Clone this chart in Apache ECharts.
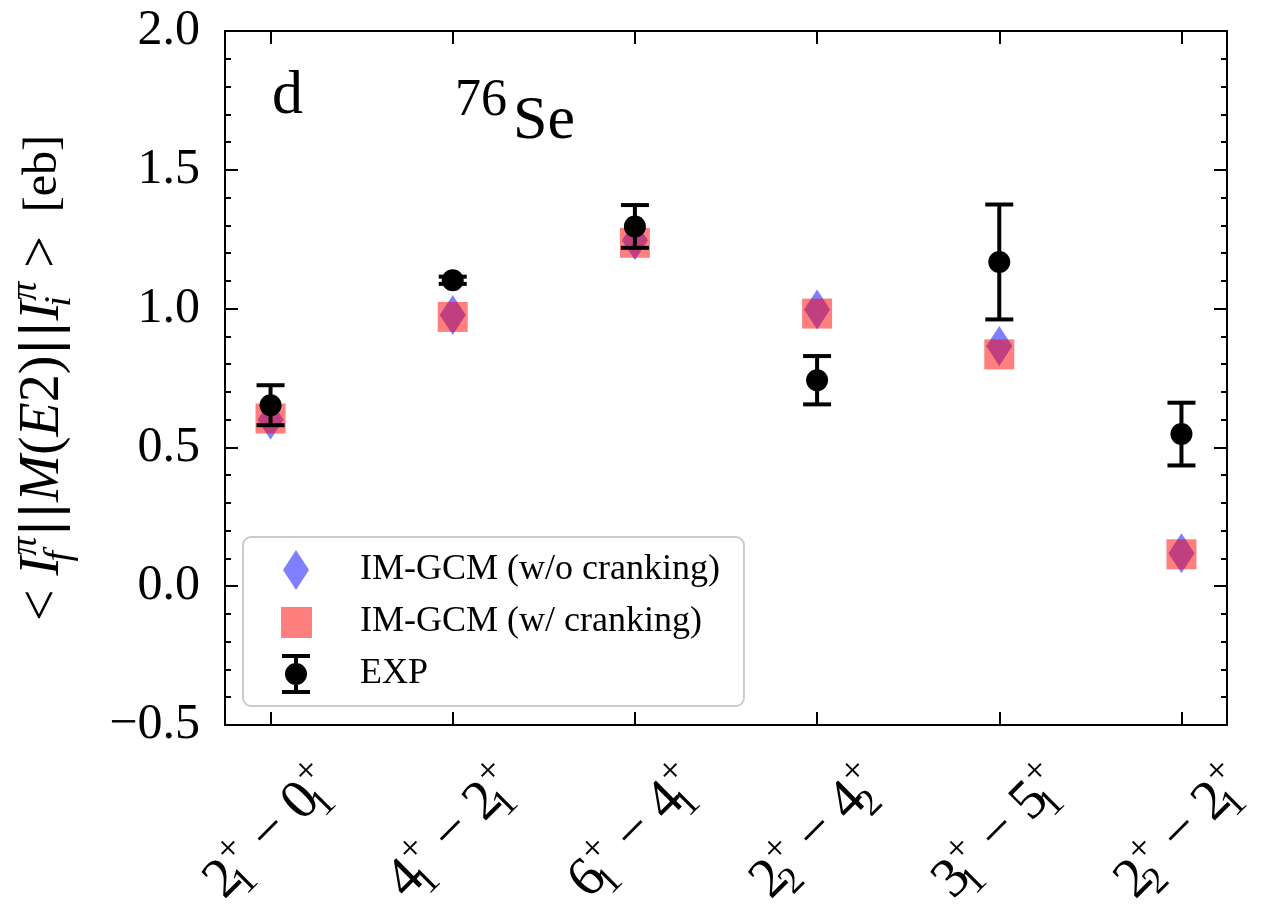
<!DOCTYPE html>
<html>
<head>
<meta charset="utf-8">
<script src="https://cdn.jsdelivr.net/npm/echarts@6/dist/echarts.min.js"></script>
<style>
html,body{margin:0;padding:0;background:#fff;}
#chart{width:1271px;height:914px;}
</style>
</head>
<body>
<div id="chart"></div>
<script>
// ---- data ----
const categories = ['2_1^+ - 0_1^+', '4_1^+ - 2_1^+', '6_1^+ - 4_1^+', '2_2^+ - 4_2^+', '3_1^+ - 5_1^+', '2_2^+ - 2_1^+'];
const woCranking = [0.600, 0.977, 1.246, 0.997, 0.865, 0.119];
const wCranking  = [0.604, 0.970, 1.237, 0.982, 0.835, 0.115];
const expValues  = [0.652, 1.102, 1.296, 0.742, 1.168, 0.548];
const expErrors  = [0.072, 0.013, 0.077, 0.087, 0.207, 0.113];
const yTicks = [-0.5, 0.0, 0.5, 1.0, 1.5, 2.0];
const seriesNames = ['IM-GCM (w/o cranking)', 'IM-GCM (w/ cranking)', 'EXP'];

const SERIF = '"Liberation Serif", "Times New Roman", serif';

function toRich(s) {
  return s.replace(/(\d)_(\d)\^\+/g, '{d|$1}{sb|$2}{sp|+}').replace(' - ', '{m| − }');
}
const xTickValues = categories.map((c, i) => i);

const chart = echarts.init(document.getElementById('chart'), null, {renderer: 'canvas'});

const axisLineStyle = {color: '#000', width: 2};
const tickStyle = {color: '#000', width: 2};

const option = {
  backgroundColor: '#fff',
  animation: false,
  grid: {left: 225, right: 44, top: 31, bottom: 189, containLabel: false, outerBoundsMode: 'none'},
  xAxis: [
    {
      type: 'value', min: -0.25, max: 5.25, position: 'bottom',
      axisLine: {show: true, onZero: false, lineStyle: axisLineStyle},
      axisTick: {show: true, inside: true, length: 13, lineStyle: tickStyle, customValues: xTickValues},
      axisLabel: {
        show: true, customValues: xTickValues, rotate: 45, align: 'center', verticalAlign: 'middle', margin: 108,
        formatter: v => toRich(categories[Math.round(v)]),
        rich: {
          d: {fontFamily: SERIF, fontSize: 56, lineHeight: 72, color: '#000'},
          m: {fontFamily: SERIF, fontSize: 56, lineHeight: 72, color: '#000'},
          sb: {fontFamily: SERIF, fontSize: 38, lineHeight: 38, width: 1, verticalAlign: 'bottom', color: '#000'},
          sp: {fontFamily: SERIF, fontSize: 38, lineHeight: 38, verticalAlign: 'top', color: '#000'}
        }
      },
      splitLine: {show: false}
    },
    {
      type: 'value', min: -0.25, max: 5.25, position: 'top',
      axisLine: {show: true, onZero: false, lineStyle: axisLineStyle},
      axisTick: {show: true, inside: true, length: 13, lineStyle: tickStyle, customValues: xTickValues},
      axisLabel: {show: false},
      splitLine: {show: false}
    }
  ],
  yAxis: [
    {
      type: 'value', min: -0.5, max: 2.0, interval: 0.5, position: 'left',
      axisLine: {show: true, onZero: false, lineStyle: axisLineStyle},
      axisTick: {show: true, inside: true, length: 13, lineStyle: tickStyle},
      minorTick: {show: true, splitNumber: 5, length: 6, lineStyle: tickStyle},
      axisLabel: {
        show: true, margin: 25, fontFamily: SERIF, fontSize: 50, color: '#000',
        formatter: v => { const t = yTicks.find(k => Math.abs(k - v) < 1e-6); return (t < 0 ? '\u2212' : '') + Math.abs(t).toFixed(1); }
      },
      splitLine: {show: false},
      name: '{n|< }{i|I}{sb|f}{sp|π}{b|||}{i|M}{n|(}{i|E}{n|2)}{b|||}{i|I}{sb|i}{sp|π}{n| >}{t|  [eb]}',
      nameLocation: 'middle', nameGap: 146, nameRotate: 90,
      nameTextStyle: {
        rich: {
          n: {fontFamily: SERIF, fontSize: 56, lineHeight: 72, color: '#000'},
          b: {fontFamily: '"DejaVu Sans", sans-serif', fontSize: 52, lineHeight: 72, color: '#000'},
          t: {fontFamily: SERIF, fontSize: 48, lineHeight: 72, color: '#000'},
          i: {fontFamily: SERIF, fontSize: 56, fontStyle: 'italic', lineHeight: 72, color: '#000'},
          sb: {fontFamily: SERIF, fontSize: 38, fontStyle: 'italic', lineHeight: 38, width: 1, verticalAlign: 'bottom', color: '#000'},
          sp: {fontFamily: SERIF, fontSize: 38, fontStyle: 'italic', lineHeight: 38, verticalAlign: 'top', color: '#000'}
        }
      }
    },
    {
      type: 'value', min: -0.5, max: 2.0, interval: 0.5, position: 'right',
      axisLine: {show: true, onZero: false, lineStyle: axisLineStyle},
      axisTick: {show: true, inside: true, length: 13, lineStyle: tickStyle},
      minorTick: {show: true, splitNumber: 5, length: 6, lineStyle: tickStyle},
      axisLabel: {show: false},
      splitLine: {show: false}
    }
  ],
  legend: {
    orient: 'vertical', left: 243, top: 537,
    padding: [13, 24, 12, 10], itemGap: 12, itemWidth: 102, itemHeight: 40,
    backgroundColor: '#fff', borderColor: '#cccccc', borderWidth: 2, borderRadius: 8,
    textStyle: {fontFamily: SERIF, fontSize: 36, color: '#000'},
    selectedMode: false,
    data: [
      {name: seriesNames[0], icon: 'path://M0,0 M102,40 M43,0 L56,20 L43,40 L30,20 Z', itemStyle: {color: 'rgba(0,0,255,0.5)', opacity: 1}},
      {name: seriesNames[1], icon: 'path://M0,0 M102,40 M28,5 L59,5 L59,36 L28,36 Z', itemStyle: {color: 'rgba(255,0,0,0.5)', opacity: 1}},
      {name: seriesNames[2], icon: 'path://M0,0 M102,40 M29,0 h28 v4 h-28 Z M29,36 h28 v4 h-28 Z M41,0 h4 v40 h-4 Z M32,20 a11,11 0 1,1 22,0 a11,11 0 1,1 -22,0 Z', itemStyle: {color: '#000', opacity: 1}}
    ]
  },
  series: [
    {
      name: seriesNames[0], type: 'scatter', z: 2,
      symbol: 'diamond', symbolSize: [26, 40],
      itemStyle: {color: 'rgba(0,0,255,0.5)', opacity: 1},
      data: woCranking.map((v, i) => [i, v])
    },
    {
      name: seriesNames[1], type: 'scatter', z: 3,
      symbol: 'rect', symbolSize: 30,
      itemStyle: {color: 'rgba(255,0,0,0.5)', opacity: 1},
      data: wCranking.map((v, i) => [i, v])
    },
    {
      name: seriesNames[2], type: 'custom', z: 4,
      encode: {x: 0, y: [1, 2]},
      renderItem: function (params, api) {
        const x = api.value(0), lo = api.value(1), hi = api.value(2);
        const pLo = api.coord([x, lo]), pHi = api.coord([x, hi]);
        const hw = 14;
        const style = {stroke: '#000', lineWidth: 4, fill: null};
        return {type: 'group', children: [
          {type: 'line', shape: {x1: pHi[0], y1: pHi[1], x2: pLo[0], y2: pLo[1]}, style: style},
          {type: 'line', shape: {x1: pHi[0] - hw, y1: pHi[1], x2: pHi[0] + hw, y2: pHi[1]}, style: style},
          {type: 'line', shape: {x1: pLo[0] - hw, y1: pLo[1], x2: pLo[0] + hw, y2: pLo[1]}, style: style}
        ]};
      },
      data: expValues.map((v, i) => [i, v - expErrors[i], v + expErrors[i]])
    },
    {
      name: seriesNames[2], type: 'scatter', z: 5,
      symbol: 'circle', symbolSize: 22,
      itemStyle: {color: '#000', opacity: 1},
      data: expValues.map((v, i) => [i, v])
    }
  ],
  graphic: [
    {type: 'text', left: 272, top: 66, z: 10, style: {text: 'd', font: '62px ' + SERIF, fill: '#000'}},
    {type: 'text', left: 455, top: 75, z: 10, style: {text: '76', font: '52px ' + SERIF, fill: '#000'}},
    {type: 'text', left: 513, top: 91, z: 10, style: {text: 'Se', font: '62px ' + SERIF, fill: '#000'}}
  ]
};
chart.setOption(option);
</script>
</body>
</html>
